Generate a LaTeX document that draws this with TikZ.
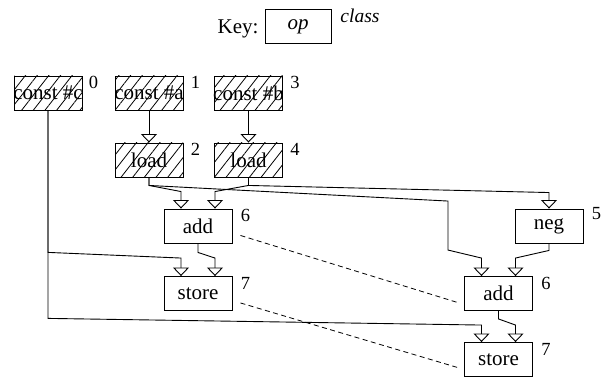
\documentclass[tikz,border=0pt]{standalone}
\usepackage{fontspec}
\setmainfont{Liberation Serif}
\usetikzlibrary{arrows.meta,calc,patterns.meta}

\begin{document}
\begin{tikzpicture}[x=1pt,y=-1pt,
  line width=0.9pt,
  box/.style={draw, line width=0.9pt, minimum width=68pt, minimum height=34pt,
    inner sep=0pt, font=\fontsize{21}{24}\selectfont},
  hatched/.style={box, pattern={Lines[angle=52,distance=9.2pt,line width=0.8pt]}},
  lab/.style={inner sep=0pt, anchor=base west, font=\fontsize{18.5}{21}\selectfont},
  edge/.style={draw, line width=0.9pt, -{Triangle[open,width=16pt,length=8.5pt]}},
  corr/.style={draw, line width=0.8pt, dash pattern=on 5pt off 3.5pt}
]
\useasboundingbox (0,0) rectangle (608,377);

% legend
\node[box, minimum width=66pt] (key) at (298,26.5) {\raisebox{-2pt}{\itshape op}};
\node[inner sep=0pt, anchor=base east, font=\fontsize{21}{24}\selectfont] (keytxt) at (259,34) {Key:};
\node[inner sep=0pt, anchor=base west, font=\fontsize{19.5}{22}\itshape] (keycls) at (340,22.5) {class};

% operations
\node[hatched] (c0) at (48,93)    {\makebox[0pt]{const \#c}};
\node[hatched] (c1) at (149,93)   {\makebox[0pt]{const \#a}};
\node[hatched] (c3) at (248.5,93) {\makebox[0pt]{const \#b}};
\node[hatched] (l2) at (149,160)  {load};
\node[hatched] (l4) at (248.5,160) {load};
\node[box] (a6)  at (198,226)   {add};
\node[box] (n5)  at (549,226)   {neg};
\node[box] (s7)  at (198,293.5) {store};
\node[box] (a6r) at (498.5,293.5) {add};
\node[box] (s7r) at (498.5,359.5) {store};

% class numbers
\node[lab] (c0n)  at ($(c0.north east)+(6,13)$)  {0};
\node[lab] (c1n)  at ($(c1.north east)+(7,13)$)  {1};
\node[lab] (c3n)  at ($(c3.north east)+(7,13)$)  {3};
\node[lab] (l2n)  at ($(l2.north east)+(7,13)$)  {2};
\node[lab] (l4n)  at ($(l4.north east)+(7,13)$)  {4};
\node[lab] (a6n)  at ($(a6.north east)+(8,13)$)  {6};
\node[lab] (n5n)  at ($(n5.north east)+(8,11)$)  {5};
\node[lab] (s7n)  at ($(s7.north east)+(8,13)$)  {7};
\node[lab] (a6rn) at ($(a6r.north east)+(8,13)$) {6};
\node[lab] (s7rn) at ($(s7r.north east)+(8,13)$) {7};

% data edges
\draw[edge] (c1.south) -- (l2.north);
\draw[edge] (c3.south) -- (l4.north);
\draw[edge] (l2.south) -- ++(0,8) -- ($(a6.north)+(-17,-17)$) -- ($(a6.north)+(-17,0)$);
\draw[edge] (l4.south) -- ++(0,8) -- ($(a6.north)+(17,-17)$) -- ($(a6.north)+(17,0)$);
\draw[edge] (l4.south) -- ++(0,8) -- ($(n5.north)+(0,-16)$) -- (n5.north);
\draw[edge] (l2.south) -- ++(0,8) -- ($(a6r.north)+(-50.5,-75)$) -- ($(a6r.north)+(-50.5,-26)$)
  -- ($(a6r.north)+(-17,-18)$) -- ($(a6r.north)+(-17,0)$);
\draw[edge] (n5.south) -- ++(0,7) -- ($(a6r.north)+(17,-18)$) -- ($(a6r.north)+(17,0)$);
\draw[edge] (a6.south) -- ++(0,9) -- ($(s7.north)+(17,-18)$) -- ($(s7.north)+(17,0)$);
\draw[edge] (c0.south) -- ($(c0.south)+(0,142)$) -- ($(s7.north)+(-17,-18)$) -- ($(s7.north)+(-17,0)$);
\draw[edge] (c0.south) -- ($(c0.south)+(0,208)$) -- ($(s7r.north)+(-17,-17)$) -- ($(s7r.north)+(-17,0)$);
\draw[edge] (a6r.south) -- ++(0,8) -- ($(s7r.north)+(17,-17)$) -- ($(s7r.north)+(17,0)$);

% correspondences
\draw[corr] ($(a6.south east)+(8,-8)$) -- ($(a6r.south west)+(-5,-8)$);
\draw[corr] ($(s7.south east)+(8,-8)$) -- ($(s7r.south west)+(-5,-9)$);
\end{tikzpicture}
\end{document}
